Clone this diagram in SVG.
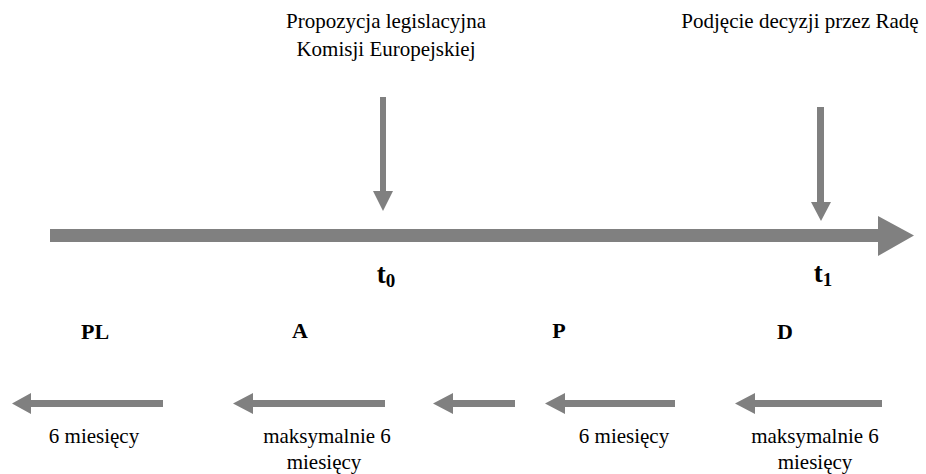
<svg xmlns="http://www.w3.org/2000/svg" width="926" height="474" viewBox="0 0 926 474">
<style>
text{font-family:'Liberation Serif','Times New Roman','DejaVu Serif',serif;fill:#000;text-anchor:middle}
.lbl{font-size:21px}
.bold{font-weight:bold}
.arr{fill:#808080}
</style>
<rect width="926" height="474" fill="#fff"/>
<g id="connectors">
  <polygon id="timeline" class="arr" points="50,229 878,229 878,216 914,235.5 878,256 878,242 50,242"/>
  <polygon id="arrow-t0" class="arr" points="380,97 386,97 386,191 393,191 383,211 373,191 380,191"/>
  <polygon id="arrow-t1" class="arr" points="817,107 824,107 824,202 831,202 821,221 811,202 817,202"/>
  <polygon id="arrow-pl" class="arr" points="163,400 163,407 31,407 31,414 12,403.5 31,393 31,400"/>
  <polygon id="arrow-a" class="arr" points="385,400 385,407 253,407 253,414 233,403.5 253,393 253,400"/>
  <polygon id="arrow-p1" class="arr" points="515,400 515,407 453,407 453,414 433,403.5 453,393 453,400"/>
  <polygon id="arrow-p2" class="arr" points="675,400 675,407 565,407 565,414 545,403.5 565,393 565,400"/>
  <polygon id="arrow-d" class="arr" points="882,400 882,407 755,407 755,414 735,403.5 755,393 755,400"/>
</g>
<g id="proposal">
  <text class="lbl" x="386" y="28" font-family="Liberation Serif, serif">Propozycja legislacyjna</text>
  <text class="lbl" x="386" y="56" font-family="Liberation Serif, serif">Komisji Europejskiej</text>
</g>
<g id="decision">
  <text class="lbl" x="800" y="28" font-family="Liberation Serif, serif">Podjęcie decyzji przez Radę</text>
</g>
<g id="t0">
  <text class="bold" x="386" y="283" font-size="27" font-family="Liberation Serif, serif">t<tspan font-size="19" dy="4">0</tspan></text>
</g>
<g id="t1">
  <text class="bold" x="823" y="282" font-size="27" font-family="Liberation Serif, serif">t<tspan font-size="19" dy="4">1</tspan></text>
</g>
<g id="PL"><text class="bold" x="95" y="339" font-size="22" font-family="Liberation Serif, serif">PL</text></g>
<g id="A"><text class="bold" x="300" y="338" font-size="22" font-family="Liberation Serif, serif">A</text></g>
<g id="P"><text class="bold" x="559" y="338" font-size="22" font-family="Liberation Serif, serif">P</text></g>
<g id="D"><text class="bold" x="785" y="339" font-size="22" font-family="Liberation Serif, serif">D</text></g>
<g id="label-pl"><text class="lbl" x="94" y="443" font-family="Liberation Serif, serif">6 miesięcy</text></g>
<g id="label-a">
  <text class="lbl" x="327" y="443" font-family="Liberation Serif, serif">maksymalnie 6</text>
  <text class="lbl" x="324" y="469" font-family="Liberation Serif, serif">miesięcy</text>
</g>
<g id="label-p"><text class="lbl" x="624" y="443" font-family="Liberation Serif, serif">6 miesięcy</text></g>
<g id="label-d">
  <text class="lbl" x="815" y="443" font-family="Liberation Serif, serif">maksymalnie 6</text>
  <text class="lbl" x="815" y="469" font-family="Liberation Serif, serif">miesięcy</text>
</g>
</svg>
